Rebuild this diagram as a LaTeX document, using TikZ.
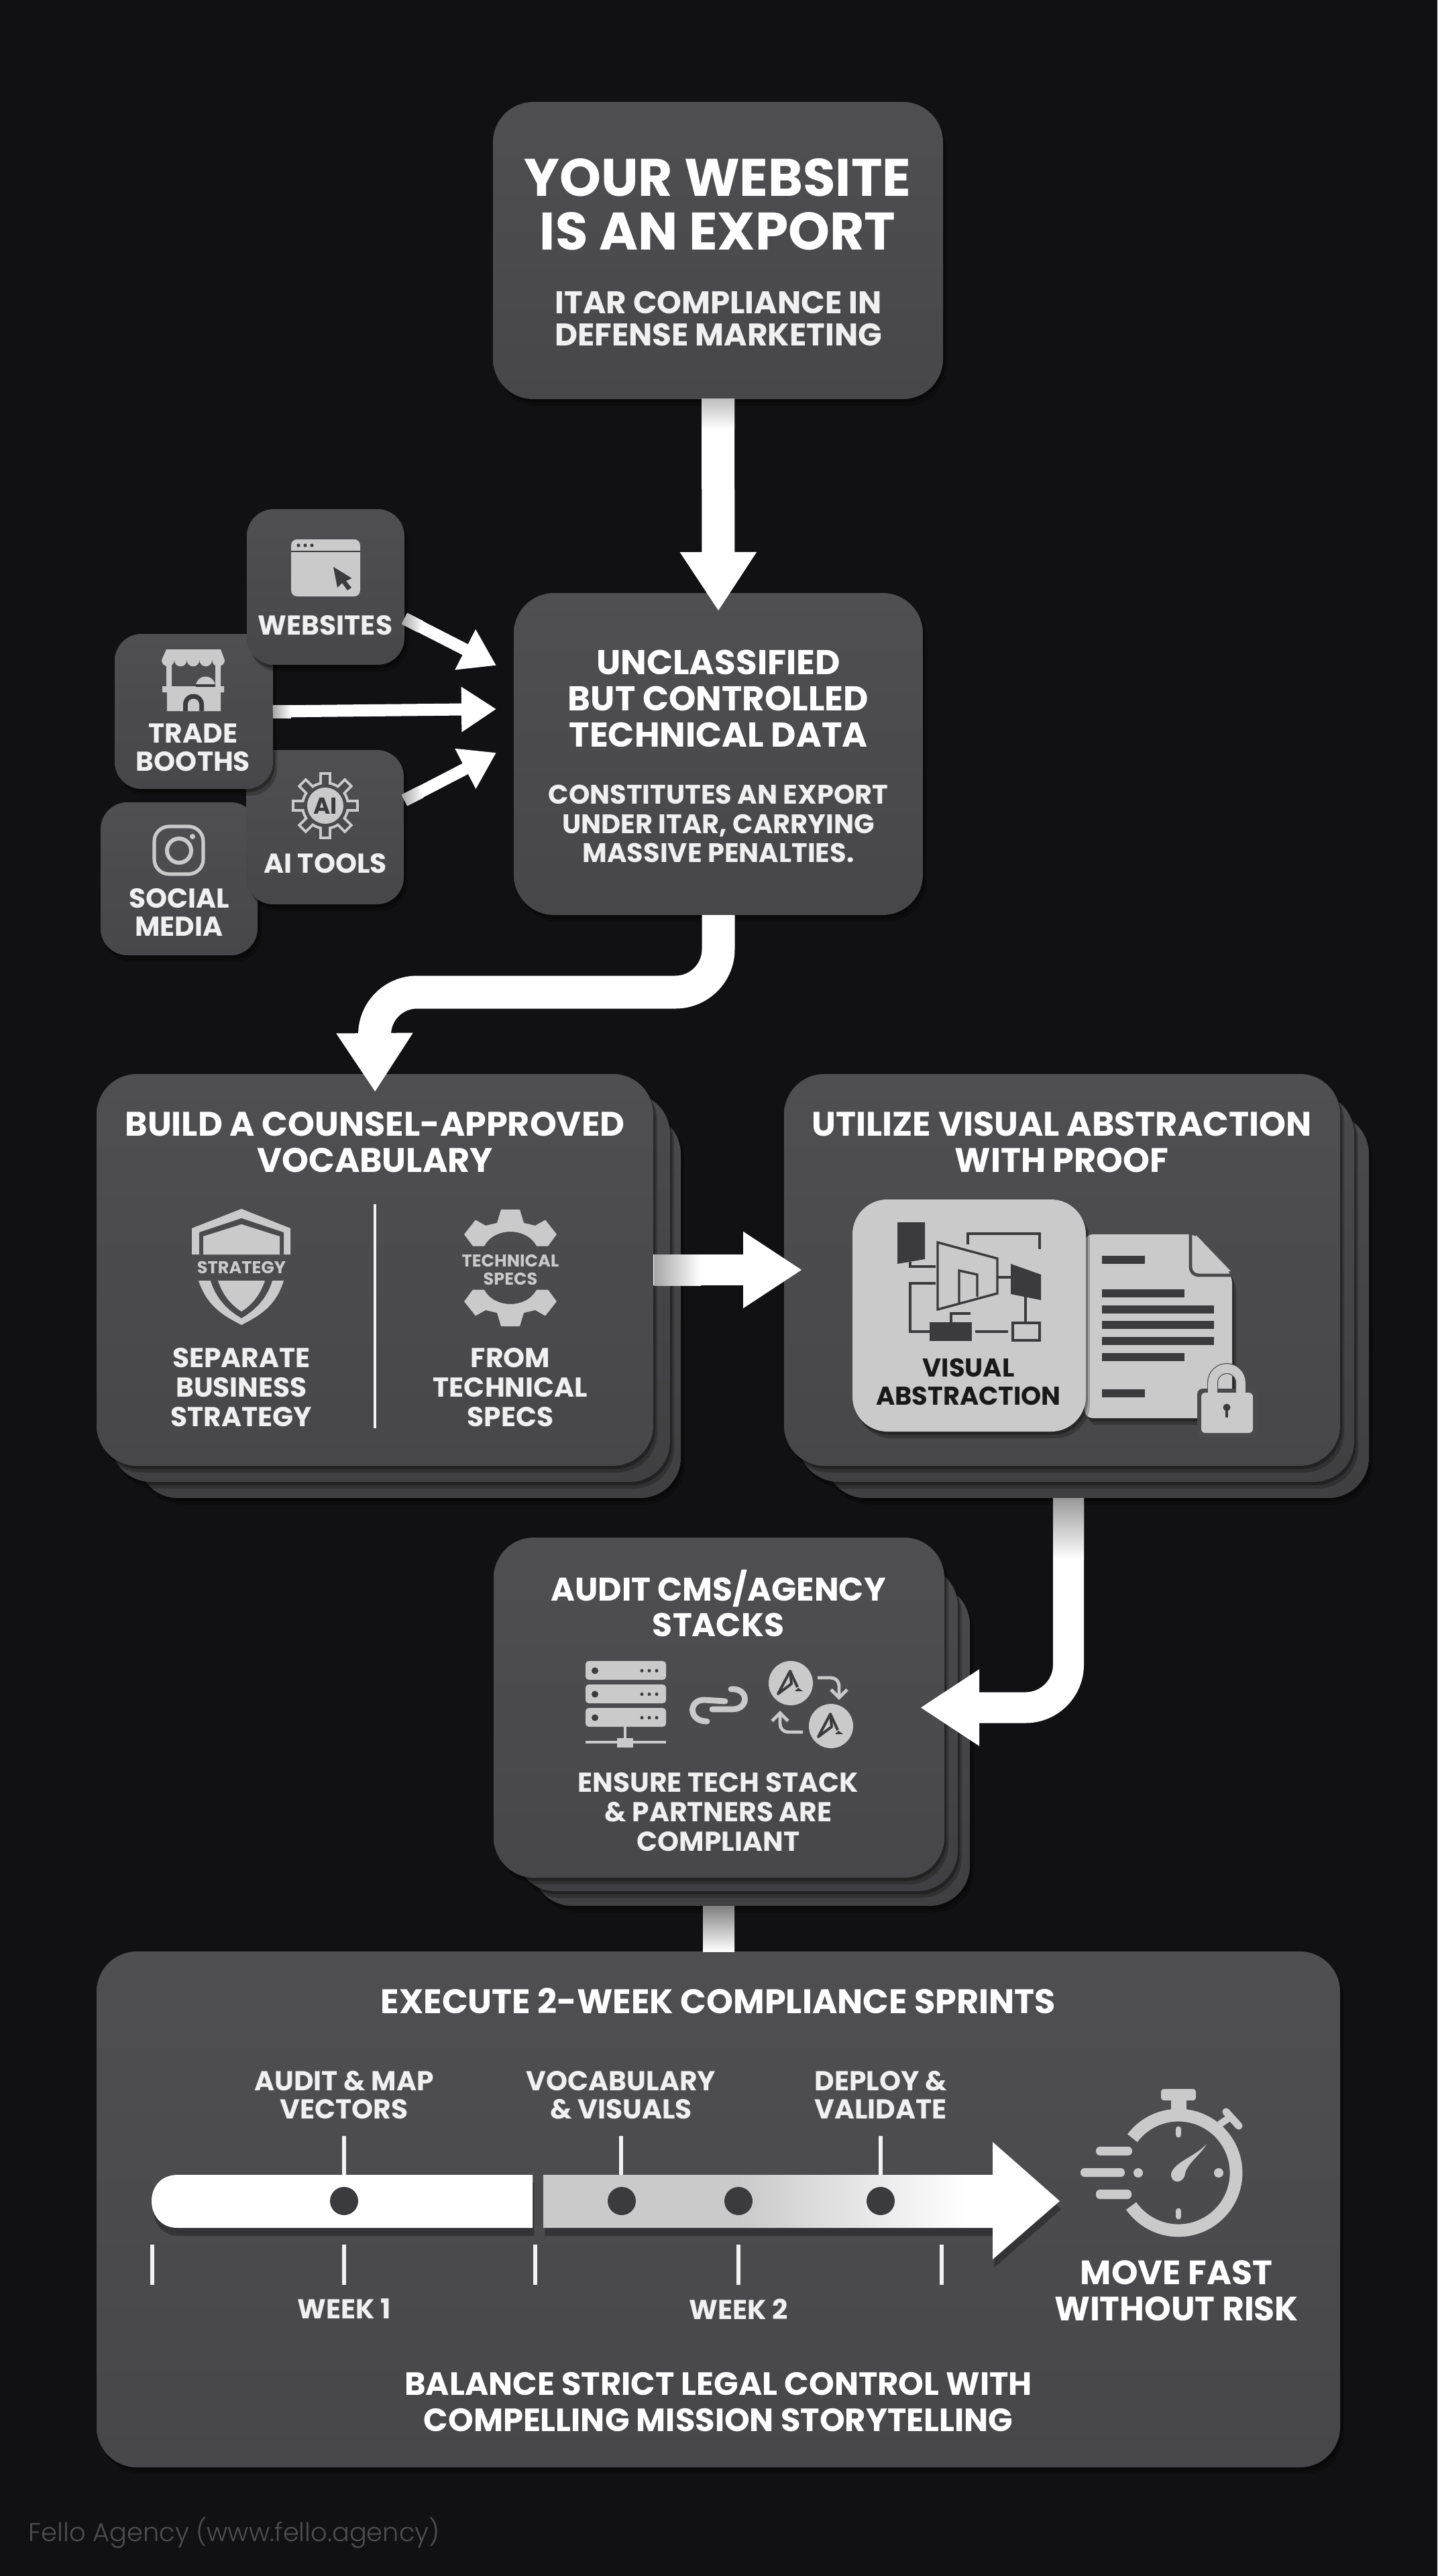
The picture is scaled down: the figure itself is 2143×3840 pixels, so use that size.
\documentclass[tikz,border=0pt]{standalone}
\usepackage{fontspec}
\setmainfont{Poppins}
\newfontfamily\footfont{Poppins Light}
\usetikzlibrary{arrows.meta,calc,shadows}
\definecolor{bgdark}{HTML}{111113}
\definecolor{cardtop}{HTML}{4F4E50}
\definecolor{cardlow}{HTML}{474648}
\definecolor{cardmid}{HTML}{4A494B}
\definecolor{iconlight}{HTML}{CACACB}
\definecolor{inkdark}{HTML}{3B3A3C}
\definecolor{footgray}{HTML}{4E4E50}
\pgfdeclarehorizontalshading{barfade}{100bp}{color(0bp)=(iconlight);color(44bp)=(iconlight);color(66bp)=(white);color(100bp)=(white)}
\newcommand{\px}{0.25pt}
% ring with radial teeth
\newcommand{\gearring}[6]{%
  \fill[#6] (#1,#2) circle (#3);
  \foreach \k in {1,...,#5}{
    \pgfmathsetmacro\ang{\k*360/#5}
    \draw[#6,line width=#4] ($(#1,#2)+(\ang:#3-4)$) -- ($(#1,#2)+(\ang:#3+14)$);
  }
}
% small logo of the agency circles
\newcommand{\agencymark}[2]{%
  \fill[iconlight] (#1,#2) circle (33);
  \draw[inkdark,line width=1pt,line join=round] ($(#1,#2)+(-1,-18)$) -- ($(#1,#2)+(-19,16)$) -- ($(#1,#2)+(1,1)$) -- cycle;
  \draw[inkdark,line width=1pt,line join=round] ($(#1,#2)+(-1,-18)$) -- ($(#1,#2)+(10,6)$);
  \fill[inkdark] ($(#1,#2)+(11,7)$) -- ($(#1,#2)+(18,12)$) -- ($(#1,#2)+(6,12)$) -- cycle;
}
\begin{document}
\begin{tikzpicture}[x=0.25pt,y=-0.25pt]
\tikzstyle{softdrop}=[general shadow={shadow xshift=1.5pt,shadow yshift=-2.5pt,fill=black,opacity=.22},general shadow={shadow xshift=.7pt,shadow yshift=-1.2pt,fill=black,opacity=.3}]
\tikzstyle{card}=[top color=cardtop,bottom color=cardlow,rounded corners=15pt,outer sep=0pt,inner sep=0pt,softdrop]
\tikzstyle{chip}=[card,rounded corners=10pt]
\tikzstyle{layer}=[card,top color=cardmid,bottom color=cardlow!90!black]
\tikzstyle{flow}=[white,line width=11.5pt,-{Triangle[length=22pt,width=27pt]},shorten >=-6.75pt]
\tikzstyle{thinflow}=[white,line width=4.5pt,-{Triangle[length=13pt,width=16pt]}]
\tikzstyle{txt}=[text=white,align=center,inner sep=0pt,font=\bfseries]
\tikzstyle{bigtitle}=[txt,font=\bfseries\fontsize{19.7}{20}\selectfont]
\tikzstyle{title}=[txt,font=\bfseries\fontsize{12.7}{13.5}\selectfont]
\tikzstyle{sub}=[txt,text=white!94!black,font=\bfseries\fontsize{10.2}{10.9}\selectfont]
\tikzstyle{tiny}=[txt,text=white!94!black,font=\bfseries\fontsize{10.2}{10.5}\selectfont]
\tikzstyle{icontxt}=[txt,text=iconlight,font=\bfseries\fontsize{6.4}{6.9}\selectfont]
\tikzstyle{thinline}=[inkdark,line width=.85pt]
\tikzstyle{tick}=[white!95!black,line width=1.3pt]
\tikzstyle{fadein}=[left color=white!65!black,right color=white]
\tikzstyle{barshadow}=[general shadow={shadow xshift=.6pt,shadow yshift=-3pt,fill=black,opacity=.3}]

\useasboundingbox (0,0) rectangle (2143,3840);
\fill[bgdark] (0,0) rectangle (2143,3840);

\node (box1) [card,minimum width=671*\px,minimum height=443*\px] at (1070.5,373.5) {};
\node (box2) [card,minimum width=610*\px,minimum height=480*\px] at (1071,1124) {};
\node (t1) [bigtitle] at (1070,305) {YOUR WEBSITE\\IS AN EXPORT};
\node (s1) [sub,font=\bfseries\fontsize{11.7}{12.2}\selectfont] at (1071,475) {ITAR COMPLIANCE IN\\DEFENSE MARKETING};
\draw[flow,line width=12.25pt] (box1.south) -- (box2.north);
\shade[top color=white!75!black,bottom color=white] (1046,595) rectangle (1095,640);
\node (t2) [title,font=\bfseries\fontsize{12.85}{13.5}\selectfont] at (1071,1041) {UNCLASSIFIED\\BUT CONTROLLED\\TECHNICAL DATA};
\node (s2) [sub,font=\bfseries\fontsize{10}{10.9}\selectfont] at (1071,1228) {CONSTITUTES AN EXPORT\\UNDER ITAR, CARRYING\\MASSIVE PENALTIES.};

% the four source chips
\node (social) [chip,minimum width=234*\px,minimum height=228*\px] at (267,1310) {};
\node (ai) [chip,minimum width=235*\px,minimum height=230*\px] at (484.5,1233) {};
\node (trade) [chip,minimum width=236*\px,minimum height=231*\px] at (289,1060.5) {};
\node (web) [chip,minimum width=235*\px,minimum height=232*\px] at (485.5,875) {};
\node (lweb) [tiny] at (485,932) {WEBSITES};
\node (ltrade) [tiny] at (288,1114) {TRADE\\BOOTHS};
\node (lsocial) [tiny] at (267,1360) {SOCIAL\\MEDIA};
\node (lai) [tiny] at (485,1287) {AI TOOLS};
\coordinate (webout) at (603,922);
\coordinate (webin) at (740,992);
\coordinate (tradein) at (740,1057);
\coordinate (aiout) at (603,1193);
\coordinate (aiin) at (740,1122);
\draw[thinflow] (webout) -- (webin);
\draw[thinflow] (trade.east) -- (tradein);
\draw[thinflow] (aiout) -- (aiin);
\shade[fadein,rotate around={-27:(webout)}] (603,912.5) rectangle (630,931.5);
\shade[fadein] (407,1051) rectangle (434,1070);
\shade[fadein,rotate around={27:(aiout)}] (603,1183.5) rectangle (630,1202.5);

% browser
\fill[iconlight,rounded corners=2.2pt] (434,804) rectangle (537,889);
\draw[inkdark,line width=.7pt] (434,822) -- (537,822);
\foreach \dotx in {445,455,465} \fill[inkdark] (\dotx,813) circle (2.6);
\fill[inkdark] (497,845) -- (524.5,862) -- (516,866) -- (524,876) -- (518,880) -- (510,869) -- (503,876) -- cycle;
% booth
\fill[iconlight] (248,968) -- (329,968) -- (335,984) -- (241,984) -- cycle;
\foreach \sx in {0,...,4} \fill[iconlight] (241+18.8*\sx,984) arc[start angle=180,end angle=0,radius=9.4] -- cycle;
\fill[iconlight] (248,985) rectangle (256,1032) (321,985) rectangle (329,1032) (242,1023) rectangle (334,1032) (249,1032) rectangle (329,1060);
\fill[iconlight] (292,1023) arc[start angle=180,end angle=360,radius=14.5] -- cycle;
\draw[inkdark,line width=.8pt] (292,1022) -- (321,1022);
\fill[inkdark] (273,1060) -- (273,1050) arc[start angle=180,end angle=360,radius=15.5] -- (304,1060) -- cycle;
\fill[iconlight] (280,1060) -- (280,1050) arc[start angle=180,end angle=360,radius=8.5] -- (297,1060) -- cycle;
% instagram
\draw[iconlight,line width=1.3pt,rounded corners=5.5pt] (230,1232) rectangle (303,1303);
\draw[iconlight,line width=1.5pt] (267,1268) circle (18);
\fill[iconlight] (287,1247) circle (4);
% ai gear
\gearring{485}{1201}{36}{4.4pt}{8}{iconlight}
\gearring{485}{1201}{32}{2.4pt}{8}{cardmid}
\fill[iconlight] (485,1201) circle (27);
\node (aimark) [txt,text=inkdark,font=\bfseries\fontsize{8.6}{9}\selectfont] at (485,1201) {AI};

% last bar from the audit stack
\coordinate (out5) at (1071,2800);
\coordinate (in6) at (1071,2910);
\draw[white,line width=11.75pt] (out5) -- (in6);
\node (box5c) [layer,minimum width=653*\px,minimum height=479*\px] at (1119.5,2601.5) {};
\node (box5b) [layer,minimum width=660*\px,minimum height=485*\px] at (1098,2576.5) {};
\node (box5) [card,minimum width=672*\px,minimum height=507*\px] at (1072,2545.5) {};
\node (box6) [card,minimum width=1854*\px,minimum height=769*\px] at (1071,3293.5) {};
\shade[top color=white!50!black,bottom color=white] (1048,2841) rectangle (1095,2909);

\coordinate (out4) at (1593,2185);
\draw[flow,rounded corners=16pt,shorten >=-9pt] (out4) |- (box5.east);

\node (box3c) [layer,minimum width=810*\px,minimum height=573*\px] at (610,1946.5) {};
\node (box3b) [layer,minimum width=834*\px,minimum height=579*\px] at (582,1919.5) {};
\node (box3) [card,minimum width=830*\px,minimum height=584*\px] at (559,1893) {};
\node (box4c) [layer,minimum width=811*\px,minimum height=573*\px] at (1635.5,1946.5) {};
\node (box4b) [layer,minimum width=829*\px,minimum height=579*\px] at (1604.5,1919.5) {};
\node (box4) [card,minimum width=829*\px,minimum height=584*\px] at (1583.5,1893) {};
\shade[top color=white!60!black,bottom color=white] (1570,2233) rectangle (1616,2325);
\draw[flow] (box3.east) -- (box4.west);
\shade[fadein] (975,1870.5) rectangle (1045,1916);
\coordinate (bend2) at (558,1479);
\draw[flow,line width=12.25pt,rounded corners=16pt] (box2.south) |- (bend2) -- (box3.north);

% counsel box
\node (t3) [title] at (559,1703) {BUILD A COUNSEL-APPROVED\\VOCABULARY};
\draw[white!95!black,line width=1.2pt] (559,1795) -- (559,2129);
\fill[iconlight] (360,1802) -- (433,1831) -- (433,1870) -- (286,1870) -- (286,1831) -- cycle;
\fill[cardmid] (360,1816) -- (423,1837) -- (423,1870) -- (297,1870) -- (297,1837) -- cycle;
\fill[iconlight] (360,1825) -- (417,1843) -- (417,1870) -- (303,1870) -- (303,1843) -- cycle;
\fill[iconlight] (296,1909) -- (423,1909) .. controls (412,1945) and (390,1960) .. (360,1975) .. controls (330,1960) and (308,1945) .. cycle;
\fill[cardmid] (314,1909) -- (406,1909) .. controls (398,1935) and (382,1952) .. (360,1965) .. controls (338,1952) and (322,1935) .. cycle;
\fill[iconlight] (325,1909) -- (395,1909) .. controls (388,1930) and (376,1945) .. (360,1955) .. controls (344,1945) and (332,1930) .. cycle;
\node (lshield) [icontxt,font=\bfseries\fontsize{6.4}{7}\selectfont] at (360,1889) {STRATEGY};
% gear cut in two around its label
\foreach \s in {-1,1}
  \fill[iconlight] (747,1890+\s*87) -- (775,1890+\s*87) -- (781,1890+\s*67) -- (798,1890+\s*63) -- (813,1890+\s*71.5) -- (830,1890+\s*50) -- (817,1890+\s*32.5) -- (800,1890+\s*32.5) .. controls (792,1890+\s*48) and (775,1890+\s*54) .. (761,1890+\s*54) .. controls (747,1890+\s*54) and (730,1890+\s*48) .. (722,1890+\s*32.5) -- (705,1890+\s*32.5) -- (692,1890+\s*50) -- (709,1890+\s*71.5) -- (724,1890+\s*63) -- (741,1890+\s*67) -- cycle;
\node (lgear) [icontxt] at (761,1893) {TECHNICAL\\SPECS};
\node (lleft) [sub] at (360,2068) {SEPARATE\\BUSINESS\\STRATEGY};
\node (lright) [sub] at (761,2068) {FROM\\TECHNICAL\\SPECS};

% abstraction box
\node (t4) [title] at (1583,1703) {UTILIZE VISUAL ABSTRACTION\\WITH PROOF};
\fill[iconlight,rounded corners=3pt,softdrop] (1617,1840) -- (1783,1840) -- (1837,1901) -- (1837,2114) -- (1617,2114) -- cycle;
\draw[cardmid,line width=1.2pt,rounded corners=3pt] (1775,1838) -- (1775,1901) -- (1838,1901);
\fill[iconlight] (1783,1841) -- (1835,1895) -- (1795,1895) -- (1781,1884) -- cycle;
\foreach \ly/\lx in {1872/1707,1922/1766,1946/1810,1969/1810,1993/1810,2017/1766,2071/1707}
  \fill[inkdark] (1643,\ly) rectangle (\lx,\ly+11.5);
\node (visual) [fill=iconlight,rounded corners=13pt,minimum width=348*\px,minimum height=346*\px,inner sep=0pt,softdrop] at (1445,1961) {};
\fill[inkdark] (1338,1822) -- (1379,1822) -- (1379,1877) -- (1338,1884) -- cycle;
\draw[thinline] (1357,1881) -- (1357,1888) -- (1395,1888);
\draw[thinline] (1398,1852) -- (1487,1876) -- (1487,1928) -- (1398,1952) -- cycle;
\draw[thinline] (1430,1942) -- (1430,1894) -- (1457,1900) -- (1457,1933);
\draw[thinline] (1443,1855) -- (1443,1839) -- (1550,1839) -- (1550,1862);
\draw[thinline] (1487,1904) -- (1507,1904);
\fill[inkdark] (1507,1884) -- (1552,1900) -- (1552,1938) -- (1507,1929) -- cycle;
\draw[thinline] (1529,1933) -- (1529,1972);
\draw[thinline] (1510,1972) rectangle (1550,1998);
\fill[inkdark] (1386,1971) rectangle (1449,1999);
\draw[thinline] (1395,1913) -- (1357,1913) -- (1357,1985) -- (1386,1985);
\draw[thinline] (1454,1985) -- (1503,1985);
\draw[thinline] (1418,1971) -- (1418,1958) -- (1447,1958);
\node (lvisual) [txt,text=black!90,font=\bfseries\fontsize{9.6}{10.7}\selectfont] at (1444,2060) {VISUAL\\ABSTRACTION};
% lock
\draw[cardmid,line width=4pt] (1808,2080) -- (1808,2061) arc[start angle=180,end angle=360,radius=21] -- (1850,2080);
\fill[cardmid,rounded corners=2pt] (1785,2070) rectangle (1874,2142);
\draw[iconlight,line width=3.4pt] (1808,2080) -- (1808,2061) arc[start angle=180,end angle=360,radius=21] -- (1850,2080);
\fill[iconlight,rounded corners=1.5pt] (1791,2076) rectangle (1868,2136);
\fill[inkdark] (1829,2098) circle (5.5);
\fill[inkdark] (1827,2098) rectangle (1831,2113);

% audit box
\node (t5) [title,font=\bfseries\fontsize{12.2}{13.3}\selectfont] at (1071,2390) {AUDIT CMS/AGENCY\\STACKS};
\foreach \ry in {2476,2511,2546}{
  \fill[iconlight,rounded corners=1.2pt] (873,\ry) rectangle (993,\ry+28);
  \fill[inkdark] (887,\ry+14.5) circle (5);
  \foreach \rx in {957,968,979} \fill[inkdark] (\rx,\ry+14.5) circle (2.5);
}
\draw[iconlight,line width=1.2pt] (932,2574) -- (932,2591) (873,2597) -- (993,2597);
\fill[iconlight] (920,2591) rectangle (944,2605);
\draw[iconlight,line width=2.2pt,line cap=round] (1081,2536) -- (1050,2534) .. controls (1026,2534) and (1026,2566) .. (1054,2566);
\draw[iconlight,line width=2.2pt,line cap=round] (1062,2548) -- (1092,2548) .. controls (1117,2548) and (1117,2516) .. (1090,2518);
\agencymark{1179}{2509}
\agencymark{1239}{2573}
\draw[iconlight,line width=1.2pt,rounded corners=3pt,-{Straight Barb[length=3pt,width=6pt]}] (1219,2501) -- (1251,2501) -- (1251,2534);
\draw[iconlight,line width=1.2pt,rounded corners=3pt,-{Straight Barb[length=3pt,width=6pt]}] (1197,2582) -- (1163,2582) -- (1163,2550);
\node (s5) [sub] at (1071,2701) {ENSURE TECH STACK\\\& PARTNERS ARE\\COMPLIANT};

% sprints box
\node (t6) [title] at (1071,2983) {EXECUTE 2-WEEK COMPLIANCE SPRINTS};
\node (m1) [tiny] at (513,3123) {AUDIT \& MAP\\VECTORS};
\node (m2) [tiny] at (926,3123) {VOCABULARY\\\& VISUALS};
\node (m3) [tiny] at (1313,3123) {DEPLOY \&\\VALIDATE};
\foreach \tx in {513,926,1313} \draw[tick] (\tx,3184) -- (\tx,3242);
\foreach \tx in {227,513,798,1101,1404} \draw[tick] (\tx,3346) -- (\tx,3406);
\fill[white,barshadow] (794,3242) -- (265,3242) .. controls (238,3242) and (226,3262) .. (226,3281) .. controls (226,3300) and (238,3321) .. (265,3321) -- (794,3321) -- cycle;
\shade[shading=barfade,barshadow] (810,3242) -- (1480,3242) -- (1480,3193) -- (1580,3281) -- (1480,3368) -- (1480,3321) -- (810,3321) -- cycle;
\foreach \hx in {513,927,1101,1313} \fill[inkdark] (\hx,3281) circle (21);
\node (w1) [tiny] at (513,3442) {WEEK 1};
\node (w2) [tiny] at (1101,3442) {WEEK 2};
% stopwatch
\draw[iconlight,line width=4.7pt] (1757,3239) ++(217:86) arc[start angle=217,end angle=505,radius=86];
\fill[iconlight] (1746,3130) rectangle (1769,3146);
\fill[iconlight,rounded corners=1pt] (1731,3114) rectangle (1783,3131);
\draw[iconlight,line width=2.6pt] (1818,3167) -- (1834,3156);
\draw[iconlight,line width=2.8pt,line cap=round] (1828,3148) -- (1847,3169);
\draw[iconlight,line width=2.2pt,line cap=round] (1757,3174) -- (1757,3182) (1757,3296) -- (1757,3304);
\fill[iconlight] (1697,3239) circle (7) (1817,3239) circle (7);
\fill[iconlight] (1799,3196) .. controls (1780,3216) and (1752,3222) .. (1746,3240) .. controls (1745,3256) and (1765,3256) .. (1767,3240) .. controls (1770,3225) and (1790,3212) .. cycle;
\fill[iconlight,rounded corners=1.5pt] (1634,3200) rectangle (1688,3213) (1611,3232) rectangle (1677,3245) (1634,3264) rectangle (1687,3278);
\node (lmove) [title,font=\bfseries\fontsize{12.6}{13.5}\selectfont] at (1754,3415) {MOVE FAST\\WITHOUT RISK};
\node (lbal) [title,font=\bfseries\fontsize{12}{13.5}\selectfont] at (1071,3581) {BALANCE STRICT LEGAL CONTROL WITH\\COMPELLING MISSION STORYTELLING};

\node (foot) [anchor=west,text=footgray,inner sep=0pt,font=\footfont\fontsize{9.6}{11}\selectfont] at (42,3776) {Fello Agency (www.fello.agency)};
\end{tikzpicture}
\end{document}
